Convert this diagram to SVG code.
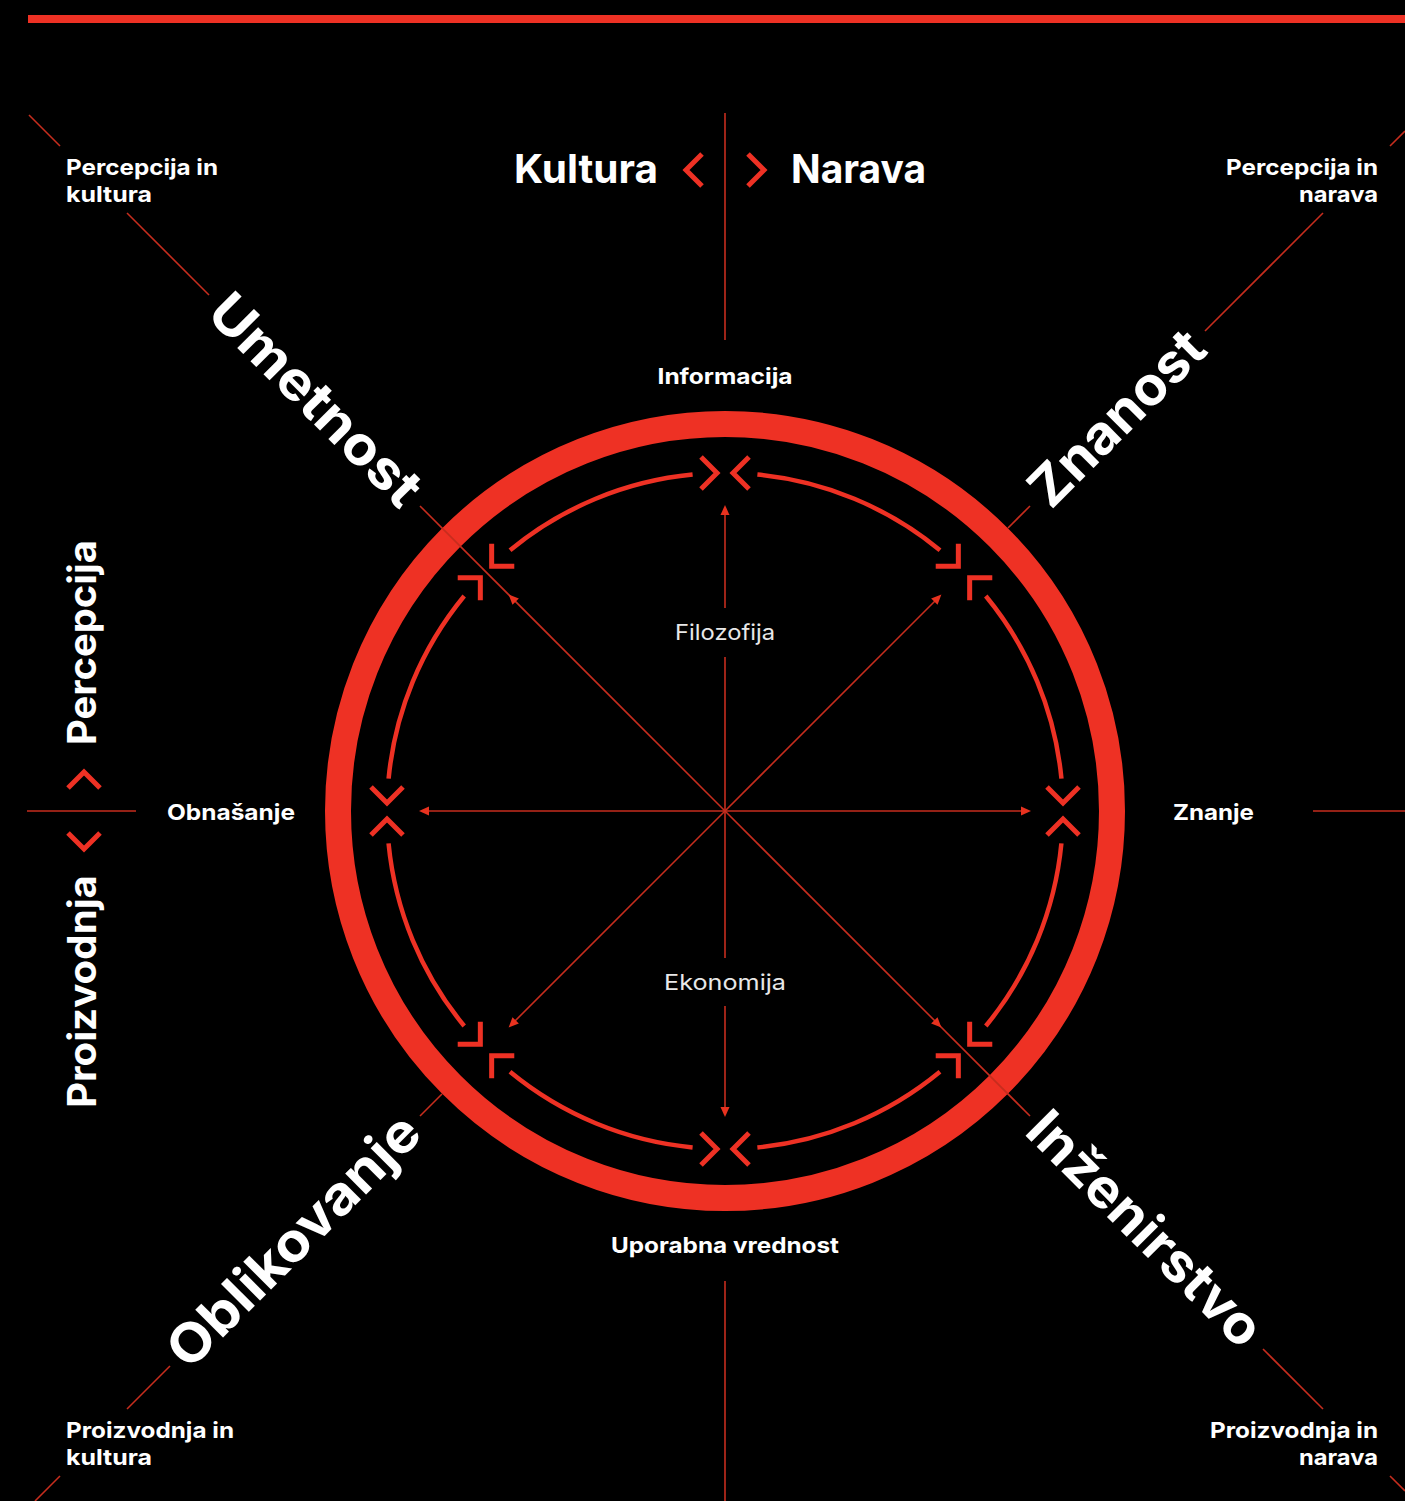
<svg xmlns="http://www.w3.org/2000/svg" xmlns:xlink="http://www.w3.org/1999/xlink" width="1405" height="1501" viewBox="0 0 1405 1501">
<style>
  .thin { stroke: #c62d1e; stroke-width: 1.6; fill: none; }
  .ring { stroke: #ee3124; stroke-width: 26; fill: none; }
  .arc { stroke: #ee3124; stroke-width: 4.5; fill: none; }
  .chev { stroke: #ee3124; stroke-width: 5; fill: none; stroke-linejoin: miter; }
  .ah { fill: #e8321f; }
  .lbl { font-family: Inter, "Open Sans", "DejaVu Sans", sans-serif; fill: #ffffff; font-weight: 700; }
  .sm { font-size: 22px; }
  .reg { font-family: Inter, "Open Sans", "DejaVu Sans", sans-serif; fill: #e8e8e8; font-weight: 400; font-size: 22px; }
  .big { font-size: 54px; }
  .mid { font-size: 39px; }
</style>
<defs>
  <path id="arc" d="M757.4 474.6 A338 338 0 0 1 940.0 550.2"/>
  <path id="chevpair" d="M701 457 L717 473 L701 489 M749 457 L733 473 L749 489"/>
  <path id="ah" d="M0 0 L4.5 10 L-4.5 10 Z"/>
</defs>
<rect x="0" y="0" width="1405" height="1501" fill="#000000"/>
<rect x="28" y="15" width="1377" height="8" fill="#ee3124"/>

<g id="ring">
  <circle class="ring" cx="725" cy="811" r="387"/>
</g>

<g id="connectors">
  <line class="thin" x1="725" y1="113" x2="725" y2="340"/>
  <line class="thin" x1="725" y1="1281" x2="725" y2="1501"/>
  <line class="thin" x1="725" y1="508" x2="725" y2="608"/>
  <line class="thin" x1="725" y1="657" x2="725" y2="958"/>
  <line class="thin" x1="725" y1="1006" x2="725" y2="1114"/>
  <line class="thin" x1="27" y1="811" x2="136" y2="811"/>
  <line class="thin" x1="1313" y1="811" x2="1405" y2="811"/>
  <line class="thin" x1="422" y1="811" x2="1028" y2="811"/>
  <line class="thin" x1="29" y1="115" x2="60" y2="146"/>
  <line class="thin" x1="127" y1="213" x2="209" y2="295"/>
  <line class="thin" x1="420" y1="506" x2="725" y2="811"/>
  <line class="thin" x1="725" y1="811" x2="939" y2="597"/>
  <line class="thin" x1="1008" y1="528" x2="1030" y2="506"/>
  <line class="thin" x1="1205" y1="331" x2="1323" y2="213"/>
  <line class="thin" x1="1390" y1="146" x2="1405" y2="131"/>
  <line class="thin" x1="725" y1="811" x2="511" y2="1025"/>
  <line class="thin" x1="420" y1="1116" x2="442" y2="1094"/>
  <line class="thin" x1="127" y1="1409" x2="170" y2="1366"/>
  <line class="thin" x1="35" y1="1501" x2="60" y2="1476"/>
  <line class="thin" x1="725" y1="811" x2="1030" y2="1116"/>
  <line class="thin" x1="1263" y1="1349" x2="1323" y2="1409"/>
  <line class="thin" x1="1390" y1="1476" x2="1405" y2="1491"/>
  <use class="ah" xlink:href="#ah" transform="translate(725 505)"/>
  <use class="ah" xlink:href="#ah" transform="translate(1031 811) rotate(90)"/>
  <use class="ah" xlink:href="#ah" transform="translate(725 1117) rotate(180)"/>
  <use class="ah" xlink:href="#ah" transform="translate(419 811) rotate(-90)"/>
  <use class="ah" xlink:href="#ah" transform="translate(941.4 594.6) rotate(45)"/>
  <use class="ah" xlink:href="#ah" transform="translate(941.4 1027.4) rotate(135)"/>
  <use class="ah" xlink:href="#ah" transform="translate(508.6 1027.4) rotate(-135)"/>
  <use class="ah" xlink:href="#ah" transform="translate(508.6 594.6) rotate(-45)"/>
</g>

<g id="inner-cycle">
  <use class="arc" xlink:href="#arc"/>
  <use class="arc" xlink:href="#arc" transform="rotate(45 725 811)"/>
  <use class="arc" xlink:href="#arc" transform="rotate(90 725 811)"/>
  <use class="arc" xlink:href="#arc" transform="rotate(135 725 811)"/>
  <use class="arc" xlink:href="#arc" transform="rotate(180 725 811)"/>
  <use class="arc" xlink:href="#arc" transform="rotate(225 725 811)"/>
  <use class="arc" xlink:href="#arc" transform="rotate(270 725 811)"/>
  <use class="arc" xlink:href="#arc" transform="rotate(315 725 811)"/>
  <use class="chev" xlink:href="#chevpair"/>
  <use class="chev" xlink:href="#chevpair" transform="rotate(45 725 811)"/>
  <use class="chev" xlink:href="#chevpair" transform="rotate(90 725 811)"/>
  <use class="chev" xlink:href="#chevpair" transform="rotate(135 725 811)"/>
  <use class="chev" xlink:href="#chevpair" transform="rotate(180 725 811)"/>
  <use class="chev" xlink:href="#chevpair" transform="rotate(225 725 811)"/>
  <use class="chev" xlink:href="#chevpair" transform="rotate(270 725 811)"/>
  <use class="chev" xlink:href="#chevpair" transform="rotate(315 725 811)"/>
</g>

<g id="kultura-narava">
  <text class="lbl" x="514" y="183" font-size="40" textLength="144" lengthAdjust="spacingAndGlyphs">Kultura</text>
  <path class="chev" d="M702 154 L686 170 L702 186"/>
  <path class="chev" d="M748 154 L764 170 L748 186"/>
  <text class="lbl" x="791" y="183" font-size="40" textLength="135" lengthAdjust="spacingAndGlyphs">Narava</text>
</g>

<g id="percepcija-proizvodnja">
  <text class="lbl mid" transform="translate(96 642.5) rotate(-90)" x="0" y="0" text-anchor="middle" textLength="205" lengthAdjust="spacingAndGlyphs">Percepcija</text>
  <path class="chev" d="M68 788 L84 772 L100 788"/>
  <path class="chev" d="M68 833 L84 849 L100 833"/>
  <text class="lbl mid" transform="translate(96 991.5) rotate(-90)" x="0" y="0" text-anchor="middle" textLength="233" lengthAdjust="spacingAndGlyphs">Proizvodnja</text>
</g>

<g id="corner-tl">
  <text class="lbl sm" x="66" y="175" textLength="152" lengthAdjust="spacingAndGlyphs">Percepcija in</text>
  <text class="lbl sm" x="66" y="202" textLength="86" lengthAdjust="spacingAndGlyphs">kultura</text>
</g>
<g id="corner-tr">
  <text class="lbl sm" x="1378" y="175" text-anchor="end" textLength="152" lengthAdjust="spacingAndGlyphs">Percepcija in</text>
  <text class="lbl sm" x="1378" y="202" text-anchor="end" textLength="79" lengthAdjust="spacingAndGlyphs">narava</text>
</g>
<g id="corner-bl">
  <text class="lbl sm" x="66" y="1438" textLength="168" lengthAdjust="spacingAndGlyphs">Proizvodnja in</text>
  <text class="lbl sm" x="66" y="1465" textLength="86" lengthAdjust="spacingAndGlyphs">kultura</text>
</g>
<g id="corner-br">
  <text class="lbl sm" x="1378" y="1438" text-anchor="end" textLength="168" lengthAdjust="spacingAndGlyphs">Proizvodnja in</text>
  <text class="lbl sm" x="1378" y="1465" text-anchor="end" textLength="79" lengthAdjust="spacingAndGlyphs">narava</text>
</g>

<g id="axis-labels">
  <text class="lbl sm" x="725" y="384" text-anchor="middle" textLength="135" lengthAdjust="spacingAndGlyphs">Informacija</text>
  <text class="lbl sm" x="725" y="1253" text-anchor="middle" textLength="228" lengthAdjust="spacingAndGlyphs">Uporabna vrednost</text>
  <text class="lbl sm" x="167" y="820" textLength="128" lengthAdjust="spacingAndGlyphs">Obnašanje</text>
  <text class="lbl sm" x="1173" y="820" textLength="81" lengthAdjust="spacingAndGlyphs">Znanje</text>
  <text class="reg" x="725" y="640" text-anchor="middle" textLength="100" lengthAdjust="spacingAndGlyphs">Filozofija</text>
  <text class="reg" x="725" y="990" text-anchor="middle" textLength="122" lengthAdjust="spacingAndGlyphs">Ekonomija</text>
</g>

<g id="umetnost">
  <text class="lbl big" transform="translate(314.5 401) rotate(45)" x="0" y="17" text-anchor="middle" textLength="276" lengthAdjust="spacingAndGlyphs">Umetnost</text>
</g>
<g id="znanost">
  <text class="lbl big" transform="translate(1117.5 418.5) rotate(-45)" x="0" y="18" text-anchor="middle" textLength="224" lengthAdjust="spacingAndGlyphs">Znanost</text>
</g>
<g id="oblikovanje">
  <text class="lbl big" transform="translate(294 1241) rotate(-45)" x="0" y="18" text-anchor="middle" textLength="333" lengthAdjust="spacingAndGlyphs">Oblikovanje</text>
</g>
<g id="inzenirstvo">
  <text class="lbl big" transform="translate(1144 1230) rotate(45)" x="0" y="17" text-anchor="middle" textLength="308" lengthAdjust="spacingAndGlyphs">Inženirstvo</text>
</g>
</svg>
